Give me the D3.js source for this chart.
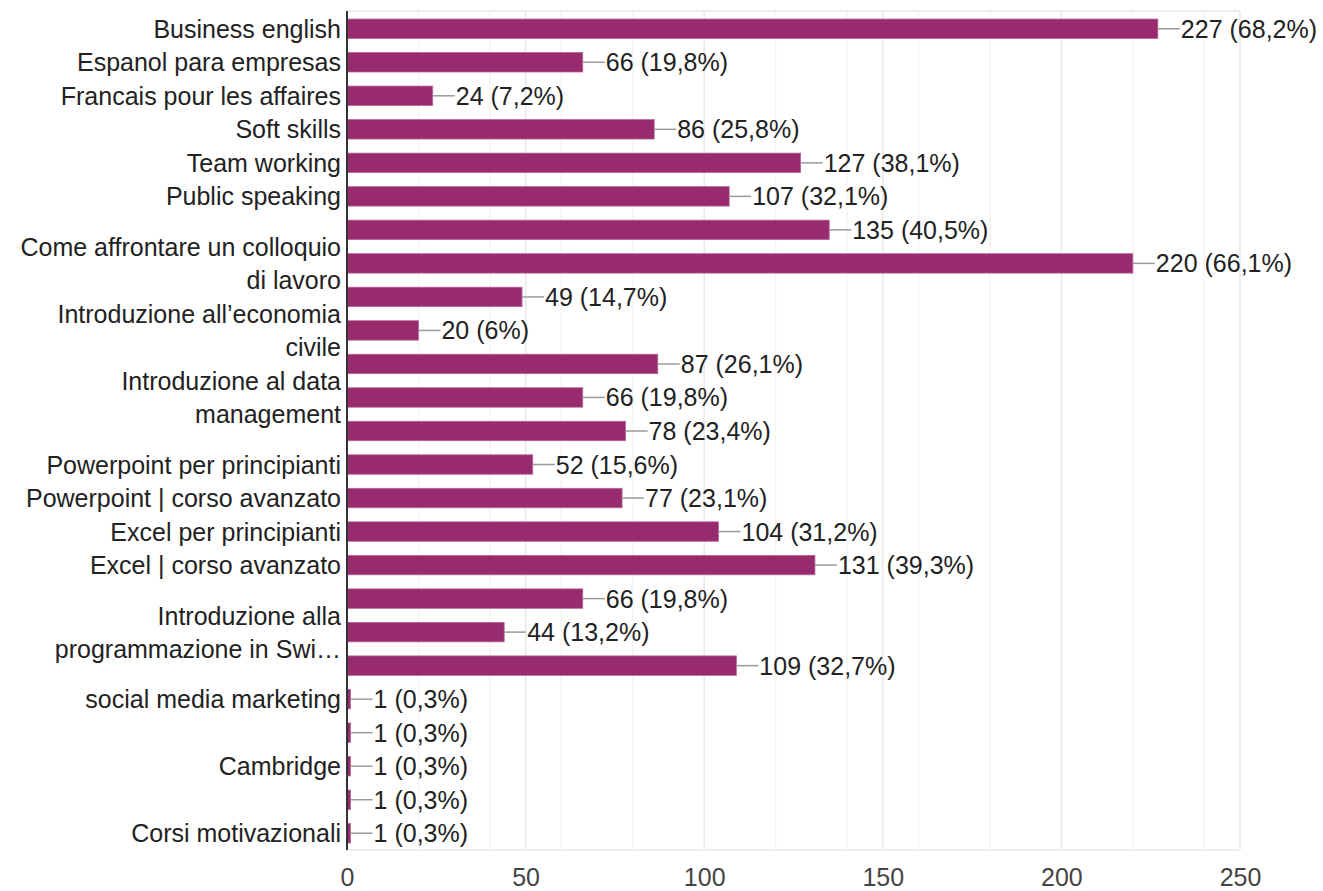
<!DOCTYPE html>
<html>
<head>
<meta charset="utf-8">
<script src="https://cdn.jsdelivr.net/npm/d3@7"></script>
<style>
    body { margin: 0; background: #fff; }
    text { font-family: "Liberation Sans", Arial, sans-serif; }
</style>
</head>
<body>
<div id="chart"></div>
<script>
// labels left empty are the ones Google hides because a wrapped neighbour covers them
const categories = [
    "Business english", "Espanol para empresas", "Francais pour les affaires", "Soft skills",
    "Team working", "Public speaking", "", "Come affrontare un colloquio di lavoro", "",
    "Introduzione all\u2019economia civile", "", "Introduzione al data management", "",
    "Powerpoint per principianti", "Powerpoint | corso avanzato", "Excel per principianti",
    "Excel | corso avanzato", "", "Introduzione alla programmazione in Swi\u2026", "",
    "social media marketing", "", "Cambridge", "", "Corsi motivazionali"
];
const counts = [227, 66, 24, 86, 127, 107, 135, 220, 49, 20, 87, 66, 78, 52, 77, 104, 131, 66, 44, 109, 1, 1, 1, 1, 1];
const percents = ["68,2%", "19,8%", "7,2%", "25,8%", "38,1%", "32,1%", "40,5%", "66,1%", "14,7%", "6%",
    "26,1%", "19,8%", "23,4%", "15,6%", "23,1%", "31,2%", "39,3%", "19,8%", "13,2%", "32,7%",
    "0,3%", "0,3%", "0,3%", "0,3%", "0,3%"];
const xTicks = [0, 50, 100, 150, 200, 250];

class HBarChart {
    constructor(element) {
        this.ele = d3.select(element);
        this.margin = {top: 11, right: 83, bottom: 41, left: 347};
        this.w = 1323;
        this.h = 891;
        this.fontSize = 25;
        this.initParams();
        this.setGrid();
        this.setBars();
        this.setLabels();
        this.setAxis();
    }

    initParams() {
        this.svg = this.ele.append("svg")
            .attr("width", this.w)
            .attr("height", this.h);
        this.plotW = this.w - this.margin.left - this.margin.right;
        this.plotH = this.h - this.margin.top - this.margin.bottom;
        this.x = d3.scaleLinear()
            .domain([0, 250])
            .range([this.margin.left, this.margin.left + this.plotW]);
        this.y = d3.scaleBand()
            .domain(d3.range(counts.length))
            .range([this.margin.top + 1, this.margin.top + this.plotH])
            .paddingInner(0.42)
            .paddingOuter(0.21);
    }

    setGrid() {
        let g = this.svg.append("g").attr("class", "grid");
        let top = this.margin.top, bottom = this.margin.top + this.plotH;
        // minor lines every 25
        g.selectAll(".minor")
            .data(this.x.ticks(10).filter(d => d % 50 !== 0))
            .enter()
            .append("line")
            .attr("x1", d => this.x(d)).attr("x2", d => this.x(d))
            .attr("y1", top).attr("y2", bottom)
            .attr("stroke", "#f4f4f4")
            .attr("stroke-width", 1.5);
        g.selectAll(".major")
            .data(xTicks.slice(1))
            .enter()
            .append("line")
            .attr("x1", d => this.x(d)).attr("x2", d => this.x(d))
            .attr("y1", top).attr("y2", bottom)
            .attr("stroke", "#e8e8e8")
            .attr("stroke-width", 1.5);
        [top, bottom].forEach(yy => {
            g.append("line")
                .attr("x1", this.x(0)).attr("x2", this.x(250))
                .attr("y1", yy).attr("y2", yy)
                .attr("stroke", "#e8e8e8")
                .attr("stroke-width", 1.5);
        });
    }

    setBars() {
        let g = this.svg.append("g").attr("class", "bars");
        g.selectAll("rect")
            .data(counts)
            .enter()
            .append("rect")
            .attr("x", this.x(0))
            .attr("y", (d, i) => this.y(i))
            .attr("width", d => Math.max(this.x(d) - this.x(0), 2))
            .attr("height", this.y.bandwidth())
            .attr("fill", "#982b6e")
            .attr("stroke", "#b5679a")
            .attr("stroke-width", 0.8);

        // leader line + value text
        let lab = this.svg.append("g").attr("class", "values");
        let rows = lab.selectAll("g")
            .data(counts)
            .enter()
            .append("g")
            .attr("transform", (d, i) => "translate(" + Math.max(this.x(d), this.x(0) + 2) + "," + (this.y(i) + this.y.bandwidth() / 2) + ")");
        rows.append("line")
            .attr("x1", 0).attr("x2", 22)
            .attr("stroke", "#9a9a9a")
            .attr("stroke-width", 1.5);
        rows.append("text")
            .attr("x", 23)
            .attr("dy", "0.36em")
            .style("font-size", this.fontSize + "px")
            .attr("fill", "#222")
            .text((d, i) => d + " (" + percents[i] + ")");

        // baseline
        this.svg.append("line")
            .attr("x1", this.x(0)).attr("x2", this.x(0))
            .attr("y1", this.margin.top).attr("y2", this.margin.top + this.plotH)
            .attr("stroke", "#333")
            .attr("stroke-width", 2);
    }

    setLabels() {
        let g = this.svg.append("g").attr("class", "cats");
        let maxW = this.margin.left - 12;
        let lineH = 33;
        categories.forEach((c, i) => {
            if (!c) return;
            let t = g.append("text")
                .attr("text-anchor", "end")
                .style("font-size", this.fontSize + "px")
                .attr("fill", "#222");
            // simple word wrap
            let words = c.split(" "), lines = [], cur = "";
            words.forEach(wd => {
                let test = cur ? cur + " " + wd : wd;
                t.text(test);
                if (t.node().getComputedTextLength() > maxW && cur) {
                    lines.push(cur);
                    cur = wd;
                } else {
                    cur = test;
                }
            });
            lines.push(cur);
            t.text(null);
            let cy = this.y(i) + this.y.bandwidth() / 2;
            let y0 = cy - (lines.length - 1) * lineH / 2;
            lines.forEach((ln, k) => {
                t.append("tspan")
                    .attr("x", this.margin.left - 6)
                    .attr("y", y0 + k * lineH)
                    .attr("dy", "0.36em")
                    .text(ln);
            });
        });
    }

    setAxis() {
        let axis = d3.axisBottom(this.x)
            .tickValues(xTicks)
            .tickSize(0)
            .tickPadding(0);
        let g = this.svg.append("g")
            .attr("transform", "translate(0," + (this.margin.top + this.plotH + 18) + ")")
            .call(axis);
        g.select(".domain").remove();
        g.selectAll("text")
            .style("font-size", this.fontSize + "px")
            .style("font-family", "'Liberation Sans', Arial, sans-serif")
            .attr("fill", "#444");
    }
}

new HBarChart("#chart");
</script>
</body>
</html>
